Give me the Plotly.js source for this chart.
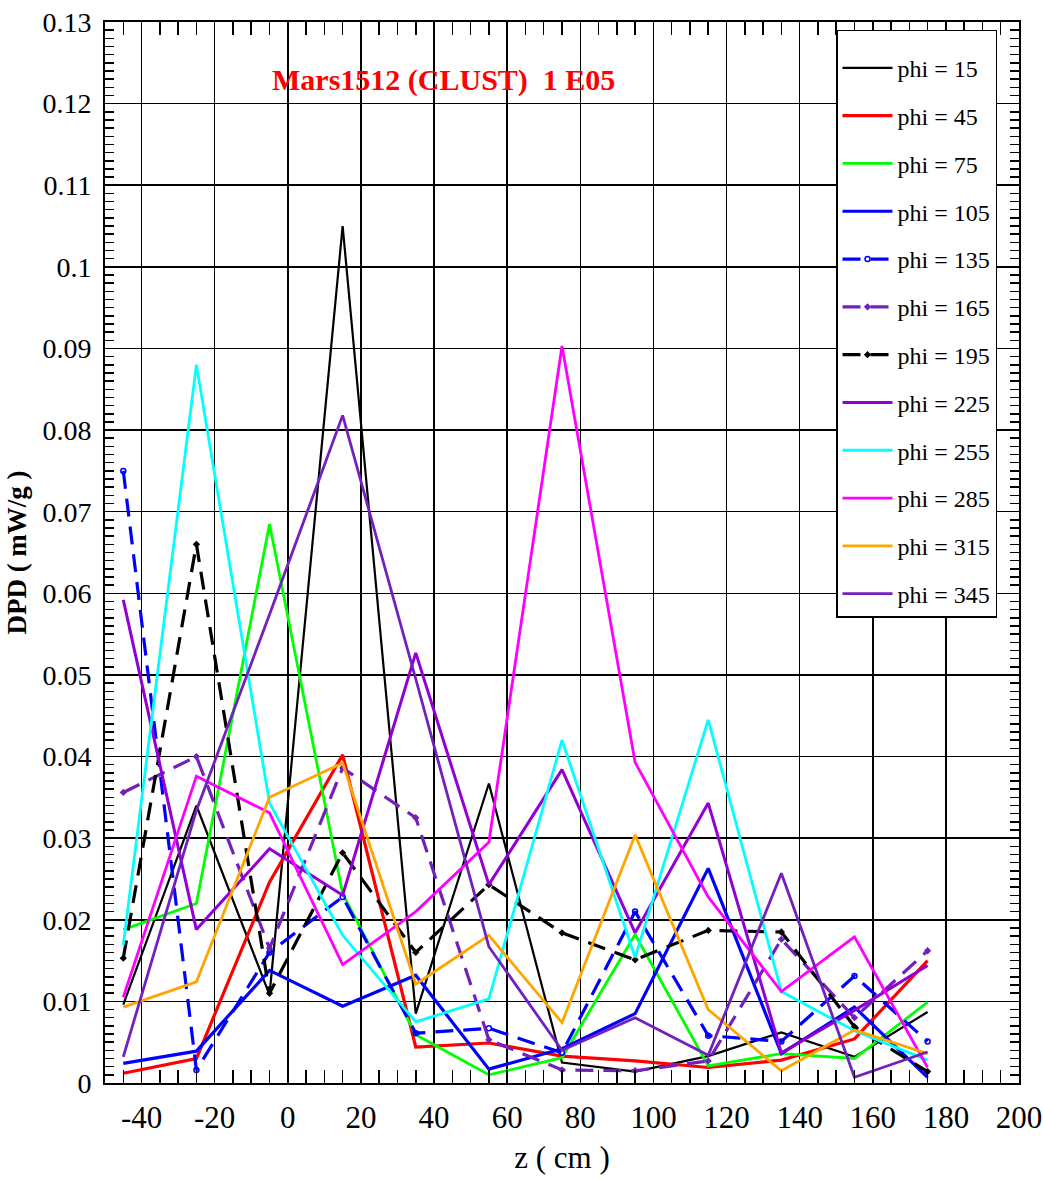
<!DOCTYPE html>
<html>
<head>
<meta charset="utf-8">
<script src="https://cdn.plot.ly/plotly-3.0.1.min.js"></script>
<style>
html,body{margin:0;padding:0;background:#fff;}
#chart{width:1043px;height:1180px;}
</style>
</head>
<body>
<div id="chart"></div>
<script>
const z = [-45, -25, -5, 15, 35, 55, 75, 95, 115, 135, 155, 175];

const phi15  = [0.0096, 0.0340, 0.0108, 0.1050, 0.0085, 0.0367, 0.0025, 0.0014, 0.0033, 0.0062, 0.0032, 0.0087];
const phi45  = [0.0012, 0.0030, 0.0246, 0.0402, 0.0044, 0.0049, 0.0033, 0.0027, 0.0019, 0.0028, 0.0054, 0.0150];
const phi75  = [0.0188, 0.0220, 0.0685, 0.0232, 0.0059, 0.0010, 0.0031, 0.0182, 0.0021, 0.0036, 0.0030, 0.0099];
const phi105 = [0.0024, 0.0039, 0.0138, 0.0094, 0.0132, 0.0017, 0.0042, 0.0085, 0.0263, 0.0036, 0.0093, 0.0007];
const phi135 = [0.0750, 0.0016, 0.0160, 0.0228, 0.0061, 0.0067, 0.0037, 0.0210, 0.0058, 0.0051, 0.0131, 0.0051];
const phi165 = [0.0356, 0.0400, 0.0165, 0.0386, 0.0325, 0.0053, 0.0016, 0.0015, 0.0027, 0.0176, 0.0080, 0.0162];
const phi195 = [0.0153, 0.0660, 0.0110, 0.0282, 0.0160, 0.0243, 0.0184, 0.0151, 0.0187, 0.0185, 0.0069, 0.0014];
const phi225 = [0.0592, 0.0188, 0.0287, 0.0230, 0.0527, 0.0243, 0.0384, 0.0184, 0.0343, 0.0037, 0.0089, 0.0144];
const phi255 = [0.0169, 0.0880, 0.0343, 0.0181, 0.0075, 0.0103, 0.0420, 0.0154, 0.0445, 0.0112, 0.0064, 0.0028];
const phi285 = [0.0105, 0.0376, 0.0331, 0.0145, 0.0210, 0.0295, 0.0903, 0.0393, 0.0228, 0.0112, 0.0179, 0.0019];
const phi315 = [0.0093, 0.0124, 0.0350, 0.0392, 0.0121, 0.0181, 0.0074, 0.0304, 0.0090, 0.0015, 0.0065, 0.0036];
const phi345 = [0.0032, 0.0334, 0.0574, 0.0818, 0.0495, 0.0167, 0.0040, 0.0080, 0.0034, 0.0257, 0.0007, 0.0038];

const seriesNames = ["phi = 15","phi = 45","phi = 75","phi = 105","phi = 135","phi = 165",
                     "phi = 195","phi = 225","phi = 255","phi = 285","phi = 315","phi = 345"];

const xTickVals = [-40, -20, 0, 20, 40, 60, 80, 100, 120, 140, 160, 180, 200];
const xTickText = ["-40", "-20", "0", "20", "40", "60", "80", "100", "120", "140", "160", "180", "200"];

const seriesData = [phi15, phi45, phi75, phi105, phi135, phi165, phi195, phi225, phi255, phi285, phi315, phi345];
const colors = ["#000000","#ff0000","#00ff00","#0000ff","#0000ff","#7221bc",
                "#000000","#9400d3","#00ffff","#ff00ff","#ffa500","#7221bc"];
const widths = [2.2, 3.2, 2.8, 3.2, 3.2, 3.2, 3.2, 3, 2.8, 2.8, 2.8, 2.8];
const dashes = ["solid","solid","solid","solid","18px,10px","18px,10px","18px,10px","solid","solid","solid","solid","solid"];
const markerSymbols = [null,null,null,null,"circle-open","diamond","diamond",null,null,null,null,null];

const font = "Liberation Serif";

const traces = seriesData.map((y, i) => {
  const t = {
    x: z, y: y, name: seriesNames[i], type: "scatter",
    mode: markerSymbols[i] ? "lines+markers" : "lines",
    legendgroup: "g" + i,
    line: {color: colors[i], width: widths[i], dash: dashes[i]}
  };
  if (markerSymbols[i]) {
    t.marker = {symbol: markerSymbols[i], size: markerSymbols[i] === "diamond" ? 4 : 5,
                color: colors[i], line: {color: colors[i], width: 1.5}};
  }
  return t;
});

const layout = {
  width: 1043, height: 1180,
  margin: {l: 105, r: 24, t: 22, b: 97},
  paper_bgcolor: "#ffffff", plot_bgcolor: "#ffffff",
  font: {family: font, color: "#000"},
  showlegend: true,
  legend: {
    x: 0.7998, y: 0.9925, xanchor: "left", yanchor: "top",
    bgcolor: "#ffffff", bordercolor: "#000000", borderwidth: 1.5,
    font: {family: font, size: 24, color: "#000"},
    title: {text: "\u00a0", font: {family: font, size: 11}},
    traceorder: "grouped", tracegroupgap: 13.6, itemwidth: 50
  },
  xaxis: {
    range: [-50, 200], tickmode: "array", tickvals: xTickVals, ticktext: xTickText,
    showgrid: true, gridcolor: "#000000", gridwidth: 1.5,
    zeroline: false,
    showline: true, linecolor: "#000000", linewidth: 2, mirror: "allticks",
    ticks: "inside", ticklen: 0, tickcolor: "#000",
    minor: {dtick: 5, tick0: 0, ticks: "inside", ticklen: 13, tickwidth: 1.5, tickcolor: "#000", showgrid: false},
    tickfont: {family: font, size: 31, color: "#000"},
    ticklabelstandoff: 6,
    title: {text: "z ( cm )", font: {family: font, size: 31, color: "#000"}, standoff: 12}
  },
  yaxis: {
    range: [0, 0.13], dtick: 0.01, tick0: 0,
    showgrid: true, gridcolor: "#000000", gridwidth: 1.5,
    zeroline: false,
    showline: true, linecolor: "#000000", linewidth: 2, mirror: "allticks",
    ticks: "inside", ticklen: 0, tickcolor: "#000",
    minor: {dtick: 0.001, ticks: "inside", ticklen: 9, tickwidth: 1.5, tickcolor: "#000", showgrid: false},
    tickfont: {family: font, size: 28, color: "#000"},
    ticklabelstandoff: 6,
    title: {text: "<b>DPD ( mW/g )</b>", font: {family: font, size: 27, color: "#000"}, standoff: 8}
  },
  annotations: [{
    xref: "paper", yref: "paper", x: 0.37, y: 0.945, xanchor: "center", yanchor: "middle",
    text: "<b>Mars1512 (CLUST)\u00a0\u00a01 E05</b>", showarrow: false,
    font: {family: font, size: 30, color: "#ff0000"}
  }]
};

Plotly.newPlot("chart", traces, layout, {displayModeBar: false, staticPlot: true});
</script>
</body>
</html>
